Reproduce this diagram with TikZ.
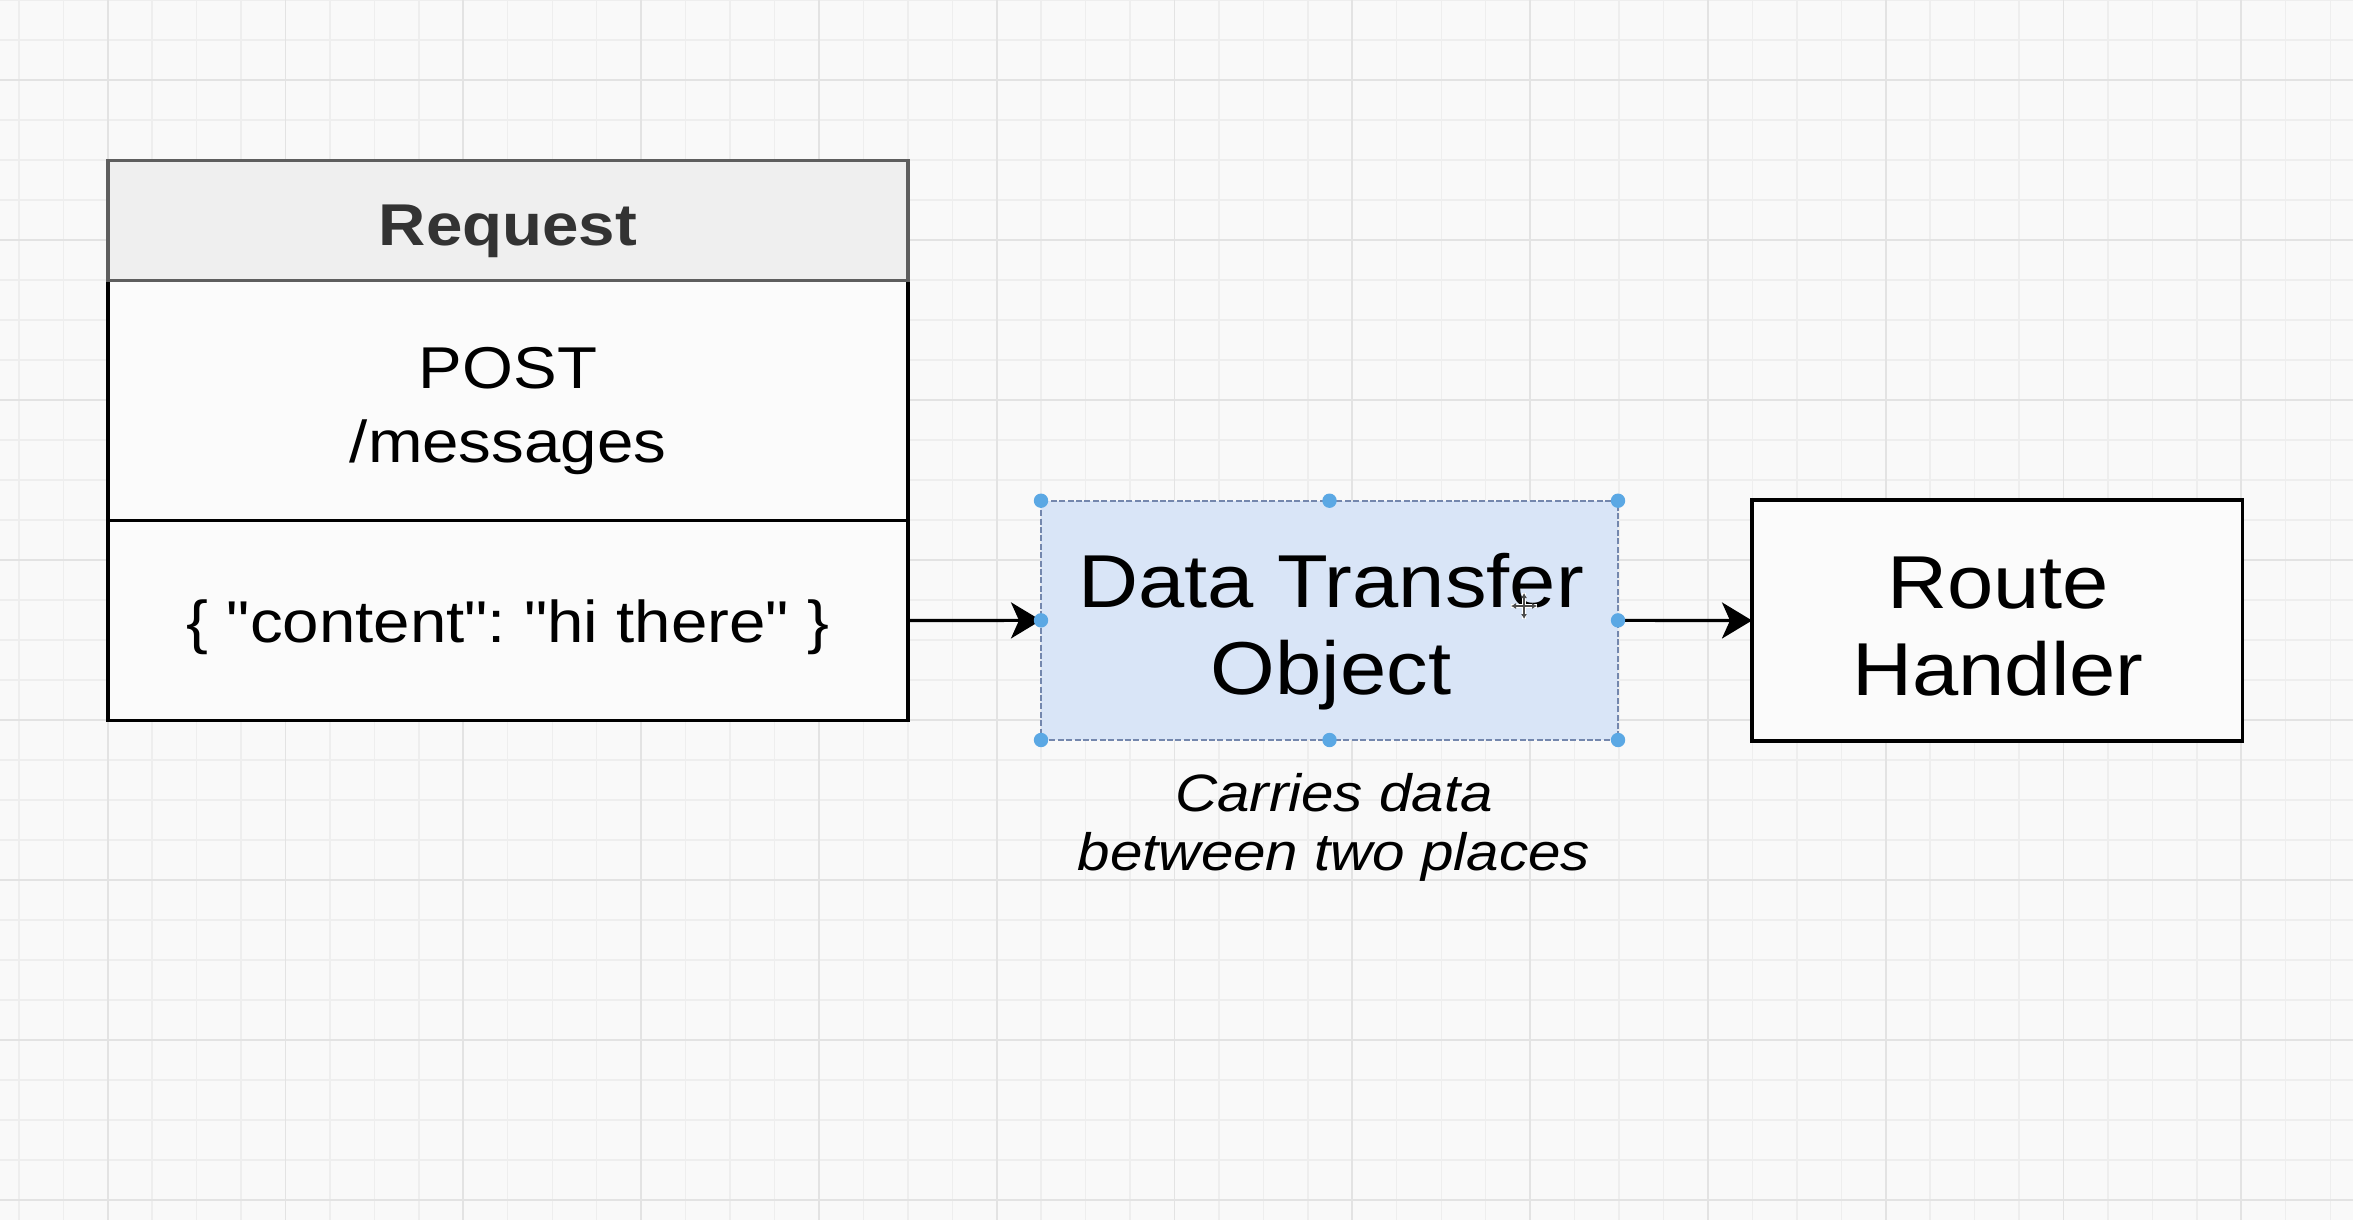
\documentclass[tikz,border=0pt]{standalone}
\usepackage{fontspec}
\setmainfont{Liberation Sans}[Ligatures=TeXOff]
\usepackage{graphicx}
\usetikzlibrary{arrows.meta}
\frenchspacing
\definecolor{bgcol}{HTML}{F9F9F9}
\definecolor{gminor}{HTML}{EEEEEE}
\definecolor{gmajor}{HTML}{E3E3E3}
\definecolor{hdrfill}{HTML}{EFEFEF}
\definecolor{hdrline}{HTML}{5E5E5E}
\definecolor{hdrtext}{HTML}{333333}
\definecolor{dtofill}{HTML}{D9E5F7}
\definecolor{dtoline}{HTML}{7487AD}
\definecolor{handlecol}{HTML}{5BA8E4}
\definecolor{boxfill}{HTML}{FBFBFB}
\newcommand{\sx}[1]{\scalebox{1.109}[1]{#1}}
\begin{document}
\begin{tikzpicture}[x=0.5pt,y=-0.5pt,
  boxpart/.style={draw=black, line width=1.7pt, fill=boxfill, inner sep=0pt, outer sep=0pt},
  hdrpart/.style={draw=hdrline, line width=1.7pt, fill=hdrfill, inner sep=0pt, outer sep=0pt},
  dtobox/.style={draw=dtoline, line width=0.9pt, dash pattern=on 3pt off 1.2pt, fill=dtofill, inner sep=0pt, outer sep=0pt},
  arr/.style={-{Stealth[length=15pt,width=18pt,inset=4pt]}, line width=1.6pt},
  lbl/.style={inner sep=0pt, anchor=base},
  fbody/.style={font=\fontsize{29.5pt}{36pt}\selectfont\frenchspacing},
  fbig/.style={font=\fontsize{37.5pt}{44pt}\selectfont},
  fcap/.style={font=\fontsize{26.3pt}{30pt}\selectfont\itshape},
  handle/.style={fill=handlecol}
]
\useasboundingbox (0,0) rectangle (2353,1220);
\fill[bgcol] (0,0) rectangle (2353,1220);
% grid
\foreach \i in {0,...,52} \draw[gminor, line width=0.7pt] ({18.8+44.45*\i},0) -- ({18.8+44.45*\i},1220);
\foreach \j in {0,...,30} \draw[gminor, line width=0.7pt] (0,{40*\j}) -- (2353,{40*\j});
\foreach \i in {0,...,12} \draw[gmajor, line width=0.9pt] ({107.7+177.8*\i},0) -- ({107.7+177.8*\i},1220);
\foreach \j in {0,...,7} \draw[gmajor, line width=0.9pt] (0,{80+160*\j}) -- (2353,{80+160*\j});

% Request box
\node[boxpart, minimum width=400pt, minimum height=120pt] (reqline) at (508,400.6) {};
\node[boxpart, minimum width=400pt, minimum height=99.8pt] (reqbody) at (508,620.5) {};
\node[hdrpart, minimum width=400pt, minimum height=60pt] (reqhead) at (508,220.5) {};

% DTO box
\node[dtobox, minimum width=288.5pt, minimum height=119.65pt] (dto) at (1329.5,620.35) {};
% Route handler
\node[boxpart, minimum width=245.3pt, minimum height=120.5pt] (rh) at (1997.3,620.5) {};

% connectors
\draw[arr] (reqbody.east) -- (dto.west);
\draw[arr] (dto.east) -- (rh.west);

% selection handles
\foreach \a in {north west,north,north east,east,south east,south,south west,west}
  \fill[handle] (dto.\a) circle[radius=3.6pt];

% texts
\node[lbl, font=\fontsize{29.5pt}{36pt}\selectfont\bfseries, text=hdrtext] (treq) at (508,245) {\sx{Request}};
\node[lbl, fbody] (tpost) at (508,388) {\sx{POST}};
\node[lbl, fbody] (tmsg) at (508,462) {\sx{/messages}};
\node[lbl, fbody] (tcontent) at (508,642) {\sx{\{ "content": "hi there" \}}};
\node[lbl, fbig] (tdata) at (1331,607.7) {\sx{Data Transfer}};
\node[lbl, fbig] (tobj) at (1331,694.5) {\sx{Object}};
\node[lbl, fbig] (troute) at (1998,608) {\sx{Route}};
\node[lbl, fbig] (thandler) at (1998,695.5) {\sx{Handler}};
\node[lbl, fcap] (tcap1) at (1334,811.5) {\sx{Carries data}};
\node[lbl, fcap] (tcap2) at (1334,870.5) {\sx{between two places}};

% move cursor
\coordinate (cur) at (1524,606);
\begin{scope}[shift={(cur)}]
  \draw[white, line width=2.2pt] (-13,0) -- (13,0) (0,-13) -- (0,13);
  \draw[black!70, line width=0.7pt, {Latex[length=2.5pt,width=3pt]}-{Latex[length=2.5pt,width=3pt]}] (-13,0) -- (13,0);
  \draw[black!70, line width=0.7pt, {Latex[length=2.5pt,width=3pt]}-{Latex[length=2.5pt,width=3pt]}] (0,-13) -- (0,13);
\end{scope}
\end{tikzpicture}
\end{document}
